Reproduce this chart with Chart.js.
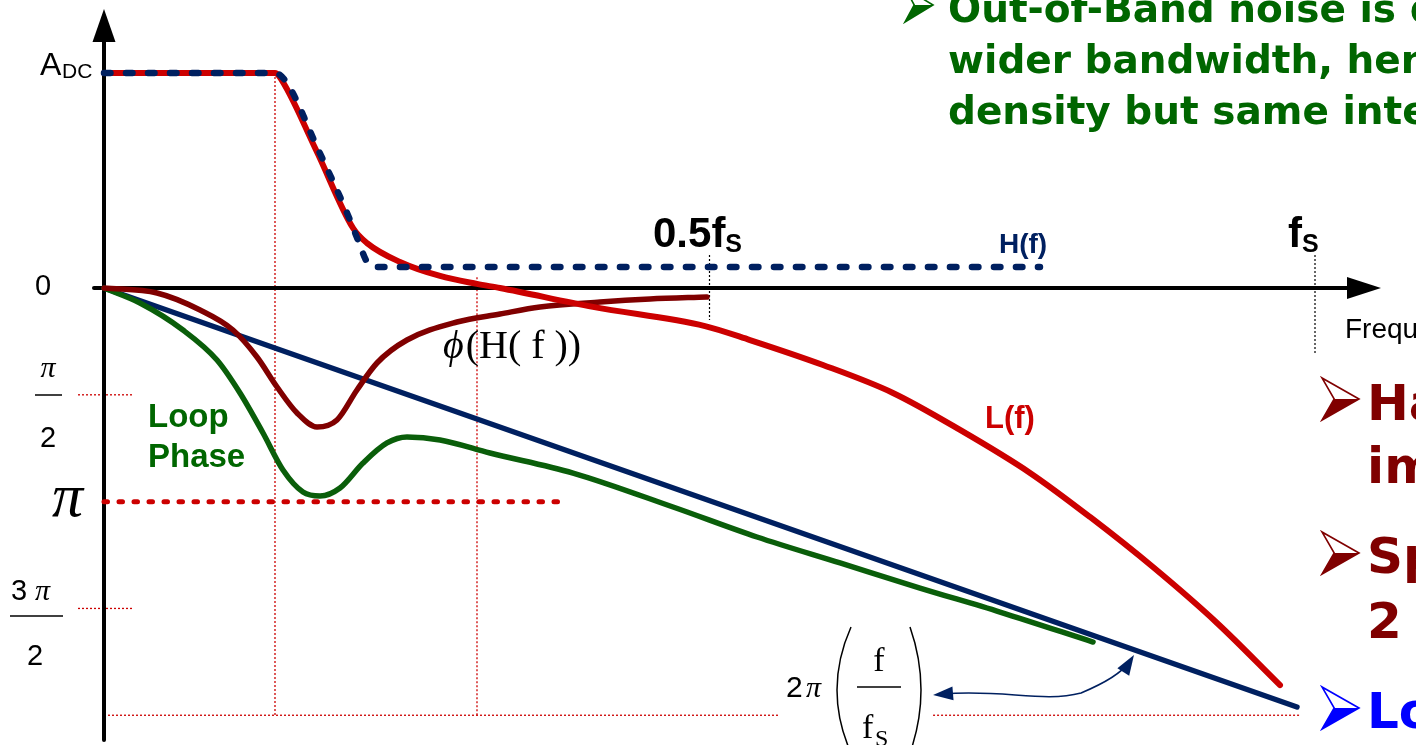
<!DOCTYPE html>
<html>
<head>
<meta charset="utf-8">
<script src="https://cdn.jsdelivr.net/npm/chart.js@4.4.1/dist/chart.umd.min.js"></script>
<style>
  html, body { margin: 0; padding: 0; background: #ffffff; overflow: hidden; }
  #wrap { width: 1416px; height: 745px; position: relative; }
</style>
</head>
<body>
<div id="wrap"><canvas id="c" width="1416" height="745"></canvas></div>
<script>
// Frequency axis is f / fS. Phase in radians (negative = lag). Magnitude relative to ADC.

// L(f): loop magnitude, continues below the axis
const L_FREQ = [0, 0.1412, 0.1445, 0.1751, 0.2056, 0.2172, 0.2444, 0.2775, 0.3080, 0.3270, 0.4038, 0.4963, 0.5334, 0.5937, 0.6515, 0.7069, 0.7647, 0.8142, 0.8662, 0.9191, 0.9711];
const L_MAG  = [1.0, 1.0, 0.986, 0.642, 0.279, 0.209, 0.121, 0.056, 0.019, 0.0, -0.088, -0.177, -0.242, -0.358, -0.488, -0.660, -0.860, -1.065, -1.298, -1.558, -1.847];

// H(f): hold response magnitude
const H_FREQ = [0, 0.1412, 0.1511, 0.1759, 0.2007, 0.2097, 0.2172, 0.2238, 0.7729];
const H_MAG  = [1.0, 1.0, 0.953, 0.656, 0.349, 0.223, 0.121, 0.098, 0.098];

// phi(H(f)): phase of H
const PHI_H_FREQ = [0, 0.0438, 0.0793, 0.1065, 0.1263, 0.1429, 0.1594, 0.1759, 0.1924, 0.2089, 0.2254, 0.2502, 0.2915, 0.3270, 0.3600, 0.4096, 0.4509, 0.4979];
const PHI_H      = [0, -0.074, -0.324, -0.618, -1.015, -1.456, -1.838, -2.044, -1.941, -1.500, -1.103, -0.765, -0.500, -0.382, -0.279, -0.206, -0.162, -0.132];

// Loop phase
const LOOP_FREQ  = [0, 0.0297, 0.0652, 0.0933, 0.1123, 0.1313, 0.1478, 0.1643, 0.1784, 0.1949, 0.2139, 0.2337, 0.2502, 0.2775, 0.3187, 0.3873, 0.4699, 0.5392, 0.6078, 0.6738, 0.7399, 0.8167];
const LOOP_PHASE = [0, -0.221, -0.618, -1.059, -1.544, -2.132, -2.676, -3.000, -3.059, -2.941, -2.574, -2.279, -2.191, -2.235, -2.426, -2.721, -3.221, -3.662, -4.044, -4.412, -4.765, -5.206];

// Sampling delay phase 2*pi*(f/fS)
const DELAY_FREQ  = [0, 0.9851];
const DELAY_PHASE = [0, -6.162];

// -pi reference level
const PI_LEVEL_FREQ  = [0, 0.375];
const PI_LEVEL_PHASE = [-Math.PI, -Math.PI];

// guide positions and tick labels
const CORNER_FREQ = [0.1412, 0.3080];
const FREQ_MARKS = [0.5, 1.0];
const FREQ_MARK_LABELS = ['0.5f', 'f'];
const PHASE_TICKS = [-Math.PI / 2, -3 * Math.PI / 2];
const FULL_TURN = -2 * Math.PI;

const RED = '#CC0000', DARK_RED = '#800000', GREEN = '#0A5E0A', NAVY = '#002060', TEXT_GREEN = '#006600';

const pts = (xs, ys) => xs.map((v, i) => ({ x: v, y: ys[i] }));

function strokeLine(ctx, x1, y1, x2, y2) {
  ctx.beginPath(); ctx.moveTo(x1, y1); ctx.lineTo(x2, y2); ctx.stroke();
}
function arrowHead(ctx, tx, ty, fx, fy, len, half) {
  const a = Math.atan2(ty - fy, tx - fx);
  ctx.beginPath();
  ctx.moveTo(tx, ty);
  ctx.lineTo(tx - len * Math.cos(a) + half * Math.sin(a), ty - len * Math.sin(a) - half * Math.cos(a));
  ctx.lineTo(tx - len * Math.cos(a) - half * Math.sin(a), ty - len * Math.sin(a) + half * Math.cos(a));
  ctx.closePath(); ctx.fill();
}
function txt(ctx, s, x, y, font, color, align) {
  ctx.font = font; ctx.fillStyle = color; ctx.textAlign = align || 'left'; ctx.textBaseline = 'alphabetic';
  ctx.fillText(s, x, y);
  return ctx.measureText(s).width;
}
function bullet(ctx, x, y, w, h, color) {
  const notch = x + w * 0.33;
  ctx.fillStyle = color; ctx.strokeStyle = color; ctx.lineWidth = 1.6; ctx.setLineDash([]);
  ctx.beginPath(); ctx.moveTo(x + w, y); ctx.lineTo(notch, y); ctx.lineTo(x, y + h / 2); ctx.closePath(); ctx.fill();
  ctx.beginPath(); ctx.moveTo(x + w, y); ctx.lineTo(x, y - h / 2); ctx.lineTo(notch, y); ctx.lineTo(x, y + h / 2); ctx.closePath(); ctx.stroke();
}

const overlay = {
  id: 'overlay',
  beforeDatasetsDraw(chart) {
    const { ctx, scales } = chart;
    const X = v => scales.x.getPixelForValue(v);
    const P = v => scales.yPh.getPixelForValue(v);
    const M = v => scales.yMag.getPixelForValue(v);
    const x0 = X(0), y0 = P(0);
    ctx.save();
    // thin red guides
    ctx.strokeStyle = RED; ctx.lineWidth = 1.3; ctx.setLineDash([2, 2]);
    strokeLine(ctx, X(CORNER_FREQ[0]), M(1), X(CORNER_FREQ[0]), P(FULL_TURN));
    strokeLine(ctx, X(CORNER_FREQ[1]), M(0.05), X(CORNER_FREQ[1]), P(FULL_TURN));
    PHASE_TICKS.forEach(t => strokeLine(ctx, x0 - 26, P(t), x0 + 28, P(t)));
    strokeLine(ctx, x0, P(FULL_TURN), X(0.5582), P(FULL_TURN));
    strokeLine(ctx, X(0.6846), P(FULL_TURN), X(0.9876), P(FULL_TURN));
    // black dotted frequency marks
    ctx.strokeStyle = '#000'; ctx.lineWidth = 1.2;
    strokeLine(ctx, X(FREQ_MARKS[0]), y0 - 33, X(FREQ_MARKS[0]), y0 + 32);
    strokeLine(ctx, X(FREQ_MARKS[1]), y0 - 33, X(FREQ_MARKS[1]), y0 + 67);
    // axes with arrowheads
    ctx.setLineDash([]); ctx.lineWidth = 4; ctx.fillStyle = '#000'; ctx.lineCap = 'round';
    strokeLine(ctx, x0, 740, x0, 38);
    arrowHead(ctx, x0, 9, x0, 60, 33, 11.5);
    strokeLine(ctx, x0 - 10, y0, 1350, y0);
    arrowHead(ctx, 1381, y0, 1300, y0, 34, 11);
    ctx.restore();
  },
  afterDatasetsDraw(chart) {
    const { ctx, scales } = chart;
    const X = v => scales.x.getPixelForValue(v);
    const P = v => scales.yPh.getPixelForValue(v);
    ctx.save();
    const SANS = '"Liberation Sans", Arial, sans-serif';
    const SERIF = '"Liberation Serif", "Times New Roman", serif';
    const BOLDUI = '"DejaVu Sans", Verdana, sans-serif';

    // vertical axis labels
    txt(ctx, 'A', 40, 75, '32px ' + SANS, '#000');
    txt(ctx, 'DC', 62, 78, '21px ' + SANS, '#000');
    txt(ctx, '0', 35, 295, '29px ' + SANS, '#000');

    ctx.strokeStyle = '#000'; ctx.lineWidth = 1.5;
    txt(ctx, 'π', 48, 377, 'italic 30px ' + SERIF, '#000', 'center');
    strokeLine(ctx, 35, 395, 62, 395);
    txt(ctx, '2', 48, 447, '29px ' + SANS, '#000', 'center');

    txt(ctx, 'π', 52, 516, 'italic 62px ' + SERIF, '#000');

    txt(ctx, '3', 11, 600, '29px ' + SANS, '#000');
    txt(ctx, 'π', 35, 600, 'italic 30px ' + SERIF, '#000');
    strokeLine(ctx, 10, 616, 63, 616);
    txt(ctx, '2', 35, 665, '29px ' + SANS, '#000', 'center');

    // curve labels
    txt(ctx, 'Loop', 148, 427, 'bold 33px ' + SANS, TEXT_GREEN);
    txt(ctx, 'Phase', 148, 467, 'bold 33px ' + SANS, TEXT_GREEN);
    let w = txt(ctx, 'ϕ', 443, 358, 'italic 40px ' + SERIF, '#000');
    txt(ctx, '(H( f ))', 443 + w + 2, 358, '40px ' + SERIF, '#000');
    txt(ctx, 'H(f)', 999, 253, 'bold 28px ' + SANS, NAVY);
    txt(ctx, 'L(f)', 985, 428, 'bold 31px ' + SANS, RED);

    // frequency marks
    w = txt(ctx, FREQ_MARK_LABELS[0], 653, 247, 'bold 42px ' + SANS, '#000');
    txt(ctx, 'S', 653 + w, 252, 'bold 25px ' + SANS, '#000');
    w = txt(ctx, FREQ_MARK_LABELS[1], 1288, 247, 'bold 42px ' + SANS, '#000');
    txt(ctx, 'S', 1288 + w, 252, 'bold 25px ' + SANS, '#000');
    txt(ctx, 'Frequency', 1345, 338, '28px ' + SANS, '#000');

    // 2*pi*(f/fS) annotation
    txt(ctx, '2', 786, 697, '30px ' + SANS, '#000');
    txt(ctx, 'π', 806, 697, 'italic 30px ' + SERIF, '#000');
    ctx.strokeStyle = '#000'; ctx.lineWidth = 1.5;
    ctx.beginPath(); ctx.moveTo(851, 627); ctx.quadraticCurveTo(823, 690, 851, 753); ctx.stroke();
    ctx.beginPath(); ctx.moveTo(910, 627); ctx.quadraticCurveTo(932, 690, 910, 753); ctx.stroke();
    txt(ctx, 'f', 879, 671, '34px ' + SERIF, '#000', 'center');
    strokeLine(ctx, 857, 687, 901, 687);
    txt(ctx, 'f', 862, 738, '34px ' + SERIF, '#000');
    txt(ctx, 'S', 875, 746, '24px ' + SERIF, '#000');

    // curved double arrow pointing at the delay line
    const ax = X(0.8505), ay = P(-5.397);
    const bx = X(0.6846), by = P(-5.985);
    ctx.strokeStyle = NAVY; ctx.fillStyle = NAVY; ctx.lineWidth = 1.6;
    ctx.beginPath();
    ctx.moveTo(bx + 10, by - 1);
    ctx.bezierCurveTo(bx + 70, by - 6, bx + 110, by + 8, bx + 148, by - 2);
    ctx.quadraticCurveTo(ax - 15, ay + 22, ax - 6, ay + 8);
    ctx.stroke();
    arrowHead(ctx, bx, by, bx + 25, by - 2, 20, 7);
    arrowHead(ctx, ax, ay, ax - 12, ay + 19, 20, 7);

    // slide bullets
    bullet(ctx, 905, 5, 28, 34, TEXT_GREEN);
    const g = 'bold 39px ' + BOLDUI;
    txt(ctx, 'Out-of-Band noise is distributed over a', 948, 22, g, TEXT_GREEN);
    txt(ctx, 'wider bandwidth, hence lower', 948, 73, g, TEXT_GREEN);
    txt(ctx, 'density but same integrated noise', 948, 124, g, TEXT_GREEN);

    const r = 'bold 50px ' + BOLDUI;
    bullet(ctx, 1322, 399, 37, 42, DARK_RED);
    txt(ctx, 'Ha', 1367, 420, r, DARK_RED);
    txt(ctx, 'im', 1367, 483, r, DARK_RED);
    bullet(ctx, 1322, 553, 37, 42, DARK_RED);
    txt(ctx, 'Sp', 1367, 573, r, DARK_RED);
    txt(ctx, '2', 1367, 638, r, DARK_RED);
    bullet(ctx, 1322, 708, 37, 42, '#0000FF');
    txt(ctx, 'Lo', 1367, 728, r, '#0000FF');
    ctx.restore();
  }
};

const base = { fill: false, pointRadius: 0, borderJoinStyle: 'round', borderCapStyle: 'round', cubicInterpolationMode: 'monotone' };

new Chart(document.getElementById('c'), {
  type: 'line',
  data: {
    datasets: [
      Object.assign({}, base, { label: 'H(f)', yAxisID: 'yMag', data: pts(H_FREQ, H_MAG), borderColor: NAVY, borderWidth: 6.5, borderDash: [6.5, 15.5], order: 0 }),
      Object.assign({}, base, { label: 'L(f)', yAxisID: 'yMag', data: pts(L_FREQ, L_MAG), borderColor: RED, borderWidth: 6, order: 1 }),
      Object.assign({}, base, { label: 'phi(H(f))', yAxisID: 'yPh', data: pts(PHI_H_FREQ, PHI_H), borderColor: DARK_RED, borderWidth: 5.5, order: 2 }),
      Object.assign({}, base, { label: 'Loop Phase', yAxisID: 'yPh', data: pts(LOOP_FREQ, LOOP_PHASE), borderColor: GREEN, borderWidth: 5.5, order: 3 }),
      Object.assign({}, base, { label: '2pi f/fS', yAxisID: 'yPh', data: pts(DELAY_FREQ, DELAY_PHASE), borderColor: NAVY, borderWidth: 5.5, order: 4 }),
      Object.assign({}, base, { label: 'pi', yAxisID: 'yPh', data: pts(PI_LEVEL_FREQ, PI_LEVEL_PHASE), borderColor: RED, borderWidth: 5, borderDash: [3.5, 11.5], order: 5 })
    ]
  },
  options: {
    responsive: false,
    animation: false,
    events: [],
    layout: { padding: 0 },
    plugins: { legend: { display: false }, tooltip: { enabled: false }, title: { display: false } },
    scales: {
      x: { type: 'linear', display: false, min: -104 / 1211, max: 1312 / 1211 },
      yPh: { type: 'linear', display: false, min: -457 / 68, max: 288 / 68 },
      yMag: { type: 'linear', display: false, min: -457 / 215, max: 288 / 215 }
    }
  },
  plugins: [overlay]
});
</script>
</body>
</html>
